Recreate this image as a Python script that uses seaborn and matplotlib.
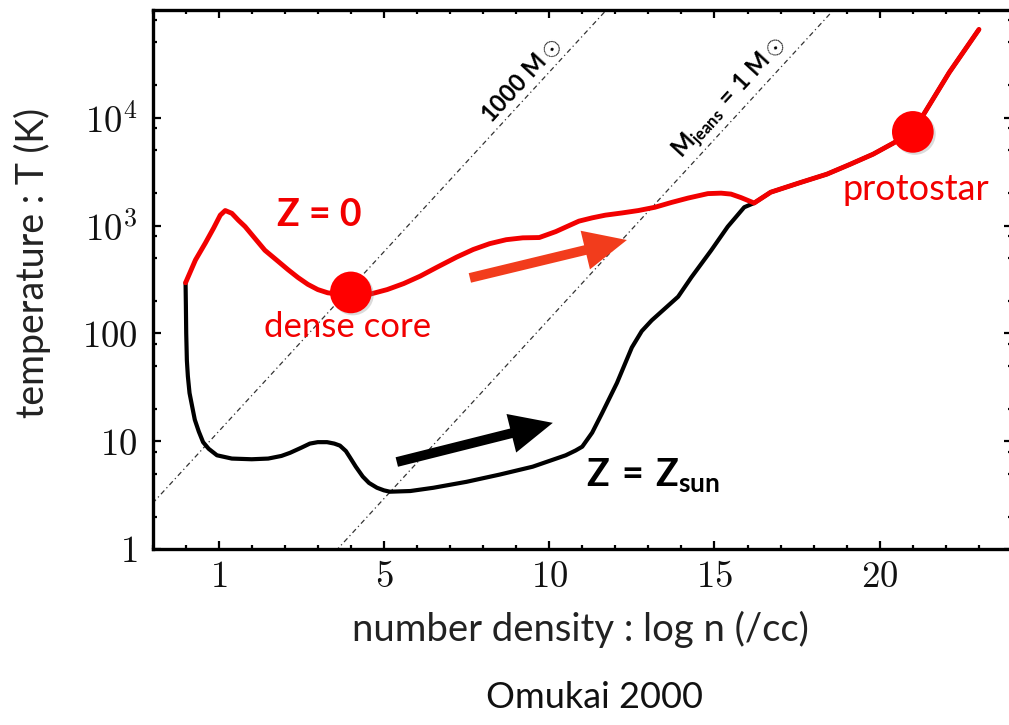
import numpy as np
import pandas as pd
import matplotlib
matplotlib.use("Agg")
import matplotlib.pyplot as plt
import matplotlib.ticker as mticker
import matplotlib.patheffects as pe
import seaborn as sns

# Thermal evolution of collapsing cores: log n [cm^-3] vs T [K]
zero_logn = [-1.0, -0.7, -0.4, -0.15, 0.05, 0.2, 0.4, 0.6, 0.8, 1.1, 1.4, 1.75,
             2.1, 2.4, 2.7, 3.0, 3.3, 3.7, 4.0, 4.6, 5.1, 5.6, 6.1, 6.6, 7.2,
             7.7, 8.2, 8.7, 9.2, 9.7, 10.2, 10.6, 10.9, 11.3, 11.7, 12.2, 12.7,
             13.2, 13.7, 14.2, 14.8, 15.2, 15.5, 15.8, 16.2, 16.7, 17.6, 18.4,
             19.1, 19.8, 20.4, 21.0, 21.4, 22.1, 23.0]
zero_T = [295, 480, 690, 950, 1250, 1380, 1300, 1120, 980, 760, 590, 480,
          390, 330, 285, 255, 238, 230, 228, 232, 255, 290, 340, 410, 510,
          600, 680, 740, 770, 775, 880, 1000, 1100, 1180, 1250, 1310, 1380,
          1480, 1640, 1800, 1980, 2000, 1960, 1820, 1620, 2040, 2510, 3000,
          3700, 4600, 5800, 7400, 11700, 26300, 66000]

sun_logn = [-1.0, -0.99, -0.98, -0.96, -0.93, -0.88, -0.8, -0.72, -0.6, -0.47,
            -0.3, -0.05, 0.4, 1.0, 1.5, 1.9, 2.16, 2.5, 2.76, 3.0, 3.28, 3.5,
            3.67, 3.85, 3.97, 4.15, 4.36, 4.55, 4.79, 5.0, 5.18, 5.8, 6.5, 7.5,
            8.5, 9.5, 10.5, 10.8, 11.0, 11.3, 11.6, 12.05, 12.5, 12.8, 13.1,
            13.5, 13.9, 14.3, 14.9, 15.4, 15.9, 16.2, 16.7, 17.6, 18.4, 19.1,
            19.8, 20.4, 21.0, 21.4, 22.1, 23.0]
sun_T = [295, 180, 100, 56, 40, 28, 21, 15.8, 12.3, 9.8, 8.5, 7.4, 6.9, 6.8,
         6.9, 7.3, 7.8, 8.7, 9.5, 9.8, 9.8, 9.5, 9.1, 8.1, 7.1, 5.8, 4.7, 4.1,
         3.7, 3.5, 3.4, 3.45, 3.7, 4.2, 4.9, 5.8, 7.4, 8.2, 8.9, 12.0, 18.2,
         34.7, 74, 105, 132, 170, 219, 331, 589, 977, 1480, 1620, 2040, 2510,
         3000, 3700, 4600, 5800, 7400, 11700, 26300, 66000]

# Key stages on the Z = 0 track
stage_names = ["dense core", "protostar"]
stage_logn = [4.0, 21.0]
stage_T = [240, 7400]

# Constant Jeans-mass lines: log T = log n / 3 + offset
jeans_offset = [1.09, -1.2]

x_ticks = [0, 5, 10, 15, 20]
x_ticklabels = ["1", "5", "10", "15", "20"]
y_ticks = [1, 10, 100, 1e3, 1e4]
y_ticklabels = ["1", "10", "100", "10^3", "10^4"]

sns.set_theme(style="ticks")
plt.rcParams["font.family"] = ["Lato", "DejaVu Sans"]
plt.rcParams["mathtext.fontset"] = "custom"
plt.rcParams["mathtext.rm"] = "Lato"
plt.rcParams["mathtext.it"] = "Lato:italic"
plt.rcParams["mathtext.bf"] = "Lato:bold"
plt.rcParams["mathtext.sf"] = "Lato"

RED = "#f20000"
fig = plt.figure(figsize=(10.09, 7.25), dpi=100)
ax = fig.add_axes([152.5 / 1009, 176 / 725, 859.5 / 1009, 539 / 725])

ax.set_xlim(-2, 24)
ax.set_yscale("log")
ax.set_ylim(1, 1e5)

# Jeans-mass guide lines
n_grid = np.array([-2.0, 24.0])
for off in jeans_offset:
    ax.plot(n_grid, 10 ** (n_grid / 3 + off), color="#333333", lw=0.9,
            ls=(0, (4, 2.5, 1, 2.5)), zorder=1)

df = pd.concat([
    pd.DataFrame({"logn": sun_logn, "T": sun_T, "model": "Z = Zsun"}),
    pd.DataFrame({"logn": zero_logn, "T": zero_T, "model": "Z = 0"}),
])
sns.lineplot(data=df[df.model == "Z = Zsun"], x="logn", y="T", color="black",
             lw=3.0, sort=False, estimator=None, ax=ax, zorder=3, legend=False,
             solid_joinstyle="round", solid_capstyle="round")
sns.lineplot(data=df[df.model == "Z = 0"], x="logn", y="T", color=RED,
             lw=3.5, sort=False, estimator=None, ax=ax, zorder=4, legend=False,
             solid_joinstyle="round", solid_capstyle="round")

sns.scatterplot(x=stage_logn, y=stage_T, s=900, color="#ff0000",
                edgecolor="none", ax=ax, zorder=6, legend=False)
ax.collections[-1].set_path_effects(
    [pe.SimplePatchShadow(offset=(1.5, -1.5), shadow_rgbFace="#888888",
                          alpha=0.3), pe.Normal()])

# Axis styling
ax.set_xticks(x_ticks)
ax.set_xticklabels([r"$%s$" % t for t in x_ticklabels])
ax.set_yticks(y_ticks)
ax.set_yticklabels([r"$%s$" % t for t in y_ticklabels])
ax.xaxis.set_minor_locator(mticker.MultipleLocator(1))
ax.yaxis.set_minor_locator(mticker.LogLocator(base=10, subs=[2, 5, 8]))
ax.yaxis.set_minor_formatter(mticker.NullFormatter())
ax.tick_params(which="both", direction="in", top=True, right=True,
               width=1.6, color="black", labelsize=26.5, labelcolor="#111111")
ax.tick_params(which="major", length=6)
ax.tick_params(which="minor", length=3)
ax.tick_params(axis="x", pad=8)
ax.tick_params(axis="y", pad=11)
for lab in ax.get_xticklabels() + ax.get_yticklabels():
    lab.set_math_fontfamily("cm")
for sp in ax.spines.values():
    sp.set_linewidth(2.4)
    sp.set_color("black")

ax.set_xlabel("number density : log n (/cc)", fontsize=27.5, color="#222222")
ax.set_ylabel("temperature : T (K)", fontsize=27, color="#222222")
ax.xaxis.set_label_coords(0.498, -0.115)
ax.yaxis.set_label_coords(-0.118, 0.531)
fig.text(594 / 1009, 1 - 698 / 725, "Omukai 2000", fontsize=26,
         ha="center", va="center", color="#111111")

# Labels along the Jeans-mass lines
p0 = ax.transData.transform((0, 1))
p1 = ax.transData.transform((3, 10))
angle = np.degrees(np.arctan2(p1[1] - p0[1], p1[0] - p0[0]))
ax.text(9.17, 22400, r"$\mathbf{1000\ M}\odot$", fontsize=17, rotation=angle,
        rotation_mode="anchor", ha="center", va="center", color="black")
ax.text(15.46, 15200, r"$\mathbf{M}_{\mathbf{jeans}}\mathbf{\:=\:1\ M}\odot$",
        fontsize=17, rotation=angle, rotation_mode="anchor", ha="center",
        va="center", color="black")

# Track and stage labels
ax.text(3.06, 1256, "Z = 0", fontsize=27, fontweight="bold", color=RED,
        ha="center", va="center", zorder=7)
ax.text(13.15, 4.86, r"$\mathbf{Z\:=\:Z}_{\mathbf{sun}}$", fontsize=27,
        color="black", ha="center", va="center", zorder=7)
ax.text(3.91, 115, stage_names[0], fontsize=25, color=RED, ha="center",
        va="center", zorder=7)
ax.text(21.09, 2140, stage_names[1], fontsize=26, color=RED, ha="center",
        va="center", zorder=7)

# Direction-of-evolution arrows
arrow_style = "simple,head_length=1.4,head_width=1.3,tail_width=0.32"
ax.annotate("", xy=(12.35, 735), xytext=(7.6, 327),
            arrowprops=dict(arrowstyle=arrow_style, color="#f23c1c", lw=0,
                            mutation_scale=22, shrinkA=0, shrinkB=0), zorder=5)
ax.annotate("", xy=(10.11, 14.8), xytext=(5.39, 6.41),
            arrowprops=dict(arrowstyle=arrow_style, color="black", lw=0,
                            mutation_scale=22, shrinkA=0, shrinkB=0), zorder=5)

fig.savefig("out.png", dpi=100, facecolor="white")
